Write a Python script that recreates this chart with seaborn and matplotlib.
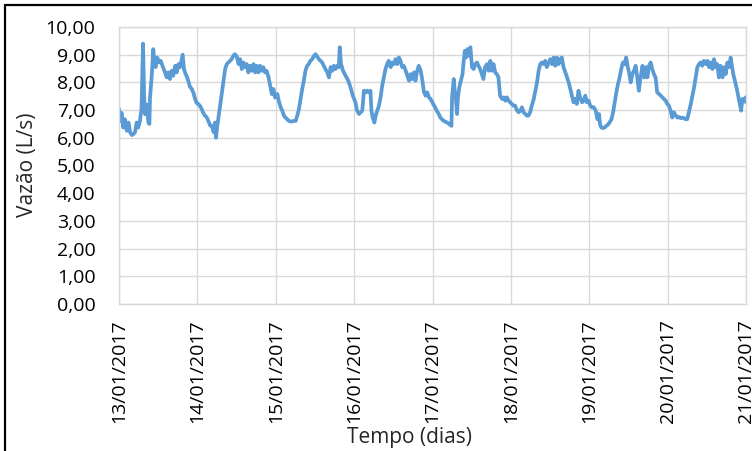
import matplotlib
matplotlib.use("Agg")
import matplotlib.pyplot as plt
import seaborn as sns
import pandas as pd
from matplotlib.ticker import FuncFormatter
from matplotlib.lines import Line2D

# ---- data: hours since 13/01/2017 00:00 and flow (L/s) ----
hours_d1 = [0, 0.3, 0.8, 1.3, 1.8, 2.4, 2.9, 3.4, 3.9, 4.4, 4.9, 5.4, 5.9, 6.4, 6.9,
            7.35, 7.7, 8.0, 8.5, 9.0, 9.3, 9.5, 10.0, 10.5, 10.8, 11.2, 11.7, 12.3,
            12.8, 13.3, 14.1, 14.6, 15.1, 15.6, 16.1, 16.6, 17.2, 17.7, 18.2, 18.7,
            19.2, 19.5, 19.9, 20.4, 20.8, 21.2, 21.7, 22.3, 22.8, 23.3, 23.8]
flow_d1 = [7.05, 6.6, 6.9, 6.37, 6.67, 6.25, 6.55, 6.2, 6.1, 6.13, 6.2, 6.55, 6.37, 6.6, 7.04,
           9.4, 7.45, 6.85, 7.2, 6.55, 6.5, 7.45, 8.2, 9.2, 8.8, 8.55, 8.9, 8.72,
           8.78, 8.6, 8.36, 8.18, 8.36, 8.12, 8.42, 8.24, 8.6, 8.36, 8.66, 8.55,
           8.84, 9.0, 8.48, 8.3, 8.2, 8.06, 7.85, 7.76, 7.62, 7.4, 7.25]

hours_d2 = [24.3, 24.8, 25.3, 25.8, 26.3, 26.8, 27.4, 27.9, 28.4, 29.0, 29.4, 29.7, 30.1,
            30.6, 31.3, 32.0, 32.5, 33.0, 33.5, 34.0, 34.5, 35.0, 35.5, 36.1, 36.6,
            37.1, 37.6, 38.1, 38.6, 39.1, 39.6, 40.1, 40.6, 41.2, 41.7, 42.2, 42.7,
            43.2, 43.7, 44.2, 44.7, 45.2, 45.8, 46.3, 46.8, 47.3, 47.8]
flow_d2 = [7.22, 7.15, 7.04, 6.9, 6.8, 6.75, 6.6, 6.45, 6.43, 6.2, 6.55, 6.0, 6.43,
           6.85, 7.45, 8.06, 8.48, 8.66, 8.72, 8.78, 8.84, 8.96, 9.02, 8.93, 8.66,
           8.84, 8.48, 8.72, 8.55, 8.66, 8.36, 8.6, 8.42, 8.66, 8.36, 8.6, 8.36,
           8.6, 8.42, 8.55, 8.36, 8.42, 8.18, 7.88, 7.58, 7.76, 7.45]

hours_d3 = [48.5, 49.0, 49.5, 50.0, 50.5, 51.0, 51.5, 52.0, 52.5, 53.0, 53.5, 54.1,
            54.6, 55.1, 55.6, 56.1, 56.6, 57.1, 57.6, 58.1, 58.6, 59.2, 59.7, 60.2,
            60.7, 61.2, 61.7, 62.2, 62.7, 63.2, 63.8, 64.3, 64.8, 65.3, 65.8, 66.3,
            66.8, 67.3, 67.6, 68.0, 68.6, 69.4, 70.2, 70.9, 71.6]
flow_d3 = [7.58, 7.3, 7.1, 6.98, 6.8, 6.73, 6.67, 6.61, 6.59, 6.59, 6.61, 6.61,
           6.8, 7.04, 7.4, 7.76, 8.06, 8.42, 8.6, 8.66, 8.78, 8.84, 8.96, 9.02,
           8.93, 8.84, 8.78, 8.72, 8.6, 8.48, 8.36, 8.18, 8.55, 8.42, 8.6, 8.48,
           8.6, 8.55, 9.27, 8.66, 8.42, 8.24, 8.06, 7.82, 7.52]

hours_d4 = [72.4, 72.9, 73.5, 74.0, 74.5, 75.0, 75.5, 76.0, 76.5, 77.0, 77.3, 77.7,
            78.2, 78.6, 79.1, 79.6, 80.1, 80.6, 81.1, 81.6, 82.1, 82.6, 83.2, 83.7,
            84.2, 84.7, 85.2, 85.7, 86.2, 86.7, 87.2, 87.8, 88.3, 88.8, 89.3, 89.8,
            90.3, 90.8, 91.3, 91.8, 92.4, 92.9, 93.4, 93.9, 94.4, 94.9, 95.4]
flow_d4 = [7.28, 6.98, 6.86, 6.92, 6.98, 7.7, 7.64, 7.7, 7.64, 7.7, 6.98, 6.73,
           6.55, 6.8, 6.98, 7.16, 7.46, 7.88, 8.18, 8.48, 8.66, 8.78, 8.55, 8.72,
           8.66, 8.84, 8.66, 8.9, 8.78, 8.55, 8.6, 8.42, 8.24, 8.06, 8.3, 8.12,
           8.36, 8.06, 8.42, 8.6, 8.42, 8.06, 7.64, 7.52, 7.64, 7.46, 7.4]

hours_d5 = [95.9, 96.3, 96.8, 97.3, 97.9, 98.4, 98.9, 99.4, 99.9, 100.4, 100.9, 101.4,
            101.8, 102.0, 102.5, 102.8, 103.1, 103.5, 103.8, 104.2, 104.7, 105.2,
            105.5, 105.9, 106.3, 106.7, 107.1, 107.6, 108.1, 108.6, 109.1, 109.6,
            110.1, 110.6, 111.1, 111.6, 112.1, 112.7, 113.2, 113.7, 114.2, 114.7,
            115.2, 115.7, 116.2, 116.7, 117.3, 117.8, 118.3, 118.8, 119.3, 119.8]
flow_d5 = [7.3, 7.2, 7.1, 6.98, 6.86, 6.73, 6.67, 6.61, 6.59, 6.55, 6.52, 6.47,
           6.43, 7.46, 8.12, 7.7, 7.52, 6.86, 7.46, 7.82, 8.06, 8.3,
           8.72, 9.14, 8.9, 9.2, 8.96, 9.27, 8.55, 8.48, 8.66, 8.72,
           8.6, 8.48, 8.3, 8.12, 8.55, 8.66, 8.42, 8.78, 8.42, 8.66,
           8.36, 8.3, 8.18, 7.52, 7.4, 7.46, 7.34, 7.46, 7.34, 7.28]

hours_d6 = [120.3, 120.8, 121.3, 121.9, 122.4, 122.9, 123.4, 123.9, 124.4, 124.9,
            125.4, 125.9, 126.4, 127.0, 127.5, 128.0, 128.5, 129.0, 129.5, 130.0,
            130.5, 131.0, 131.6, 132.1, 132.6, 133.1, 133.6, 134.1, 134.6, 135.1,
            135.6, 136.1, 136.7, 137.2, 137.7, 138.2, 138.7, 139.2, 139.7, 140.2,
            140.7, 141.2, 141.8, 142.3, 142.8, 143.3, 143.8]
flow_d6 = [7.22, 7.16, 7.16, 6.98, 6.92, 6.98, 7.1, 6.92, 6.86, 6.8,
           6.8, 6.92, 7.16, 7.4, 7.7, 8.0, 8.42, 8.66, 8.72, 8.66,
           8.78, 8.55, 8.72, 8.84, 8.66, 8.9, 8.6, 8.9, 8.66, 8.84,
           8.9, 8.55, 8.36, 8.18, 8.0, 7.76, 7.52, 7.28, 7.4, 7.22,
           7.7, 7.46, 7.28, 7.34, 7.52, 7.28, 7.34]

hours_d7 = [144.3, 144.8, 145.4, 146.0, 146.5, 147.0, 147.3, 147.7, 148.2, 148.7,
            149.2, 149.7, 150.2, 150.8, 151.3, 151.8, 152.3, 152.8, 153.3, 153.8,
            154.3, 154.8, 155.3, 155.8, 156.2, 156.7, 157.2, 157.7, 158.2, 158.7,
            159.2, 159.7, 160.3, 160.8, 161.3, 161.8, 162.3, 162.8, 163.3, 163.8,
            164.3, 164.8, 165.4, 165.9, 166.4, 166.9, 167.4, 167.9]
flow_d7 = [7.16, 7.1, 7.1, 6.98, 6.67, 6.86, 6.49, 6.37, 6.35, 6.37,
           6.43, 6.47, 6.55, 6.67, 6.92, 7.28, 7.64, 7.94, 8.18, 8.48,
           8.72, 8.66, 8.9, 8.55, 8.36, 8.0, 8.3, 8.42, 8.6, 8.18,
           7.7, 8.18, 8.6, 8.18, 8.55, 8.18, 8.6, 8.72, 8.48, 8.3,
           8.18, 7.64, 7.58, 7.52, 7.46, 7.4, 7.34, 7.22]

hours_d8 = [168.4, 168.9, 169.4, 169.9, 170.5, 171.0, 171.5, 172.0, 172.5, 173.0,
            173.5, 174.0, 174.5, 175.1, 175.6, 176.1, 176.6, 177.1, 177.6, 178.1,
            178.6, 179.1, 179.7, 180.2, 180.7, 181.2, 181.7, 182.2, 182.7, 183.2,
            183.7, 184.2, 184.8, 185.3, 185.8, 186.3, 186.8, 187.3, 187.6, 188.1,
            188.6, 189.2, 189.7, 190.2, 190.5, 190.9, 191.4, 191.9, 192.0]
flow_d8 = [7.16, 6.98, 6.73, 6.92, 6.8, 6.73, 6.75, 6.71, 6.73, 6.71,
           6.67, 6.67, 6.92, 7.22, 7.52, 7.82, 8.18, 8.55, 8.66, 8.72,
           8.6, 8.78, 8.66, 8.78, 8.55, 8.72, 8.48, 8.84, 8.55, 8.66,
           8.18, 8.6, 8.18, 8.55, 8.3, 8.72, 8.55, 8.9, 8.66, 8.3,
           8.06, 7.76, 7.46, 7.16, 6.98, 7.4, 7.34, 7.46, 7.28]

date_labels = ["13/01/2017", "14/01/2017", "15/01/2017", "16/01/2017", "17/01/2017",
               "18/01/2017", "19/01/2017", "20/01/2017", "21/01/2017"]
y_ticks = [0, 1, 2, 3, 4, 5, 6, 7, 8, 9, 10]

hours = (hours_d1 + hours_d2 + hours_d3 + hours_d4 +
         hours_d5 + hours_d6 + hours_d7 + hours_d8)
flow = (flow_d1 + flow_d2 + flow_d3 + flow_d4 +
        flow_d5 + flow_d6 + flow_d7 + flow_d8)
df = pd.DataFrame({"hours": hours, "flow": flow})

# ---- style ----
sns.set_style("white")
plt.rcParams['font.family'] = ['Open Sans', 'DejaVu Sans']

W, H = 752, 451
fig = plt.figure(figsize=(W / 100, H / 100), dpi=100)
ax = fig.add_axes([119 / W, 1 - 304 / H, (746 - 119) / W, (304 - 27) / H])

sns.lineplot(data=df, x="hours", y="flow", ax=ax, color="#5B9BD5",
             linewidth=2.7, estimator=None, sort=False)

ax.set_xlim(0, 192)
ax.set_ylim(0, 10)
ax.set_xticks([24 * i for i in range(len(date_labels))])
ax.set_xticklabels(date_labels, rotation=90)
ax.set_yticks(y_ticks)
ax.yaxis.set_major_formatter(FuncFormatter(lambda v, p: f"{v:.2f}".replace(".", ",")))
ax.grid(True, color="#d9d9d9", linewidth=1.0)
ax.set_axisbelow(True)
for s in ax.spines.values():
    s.set_color("#d9d9d9")
    s.set_linewidth(1.0)
ax.tick_params(axis="both", length=0, labelsize=14, colors="#000000")
ax.tick_params(axis="y", pad=17)
ax.tick_params(axis="x", pad=11)
ax.set_xlabel("")
ax.set_ylabel("")

fig.text(27 / W, 1 - 165 / H, "Vazão (L/s)", rotation=90, ha="center", va="center",
         fontsize=15)
fig.text(409 / W, 1 - 437 / H, "Tempo (dias)", ha="center", va="center", fontsize=15)

# outer frame (left and top edges visible)
fig.add_artist(Line2D([5 / W, 5 / W], [0, 1 - 5 / H], transform=fig.transFigure,
                      color="black", linewidth=1.6))
fig.add_artist(Line2D([5 / W, 1], [1 - 5 / H, 1 - 5 / H], transform=fig.transFigure,
                      color="black", linewidth=1.6))

fig.savefig("out.png", dpi=100)
